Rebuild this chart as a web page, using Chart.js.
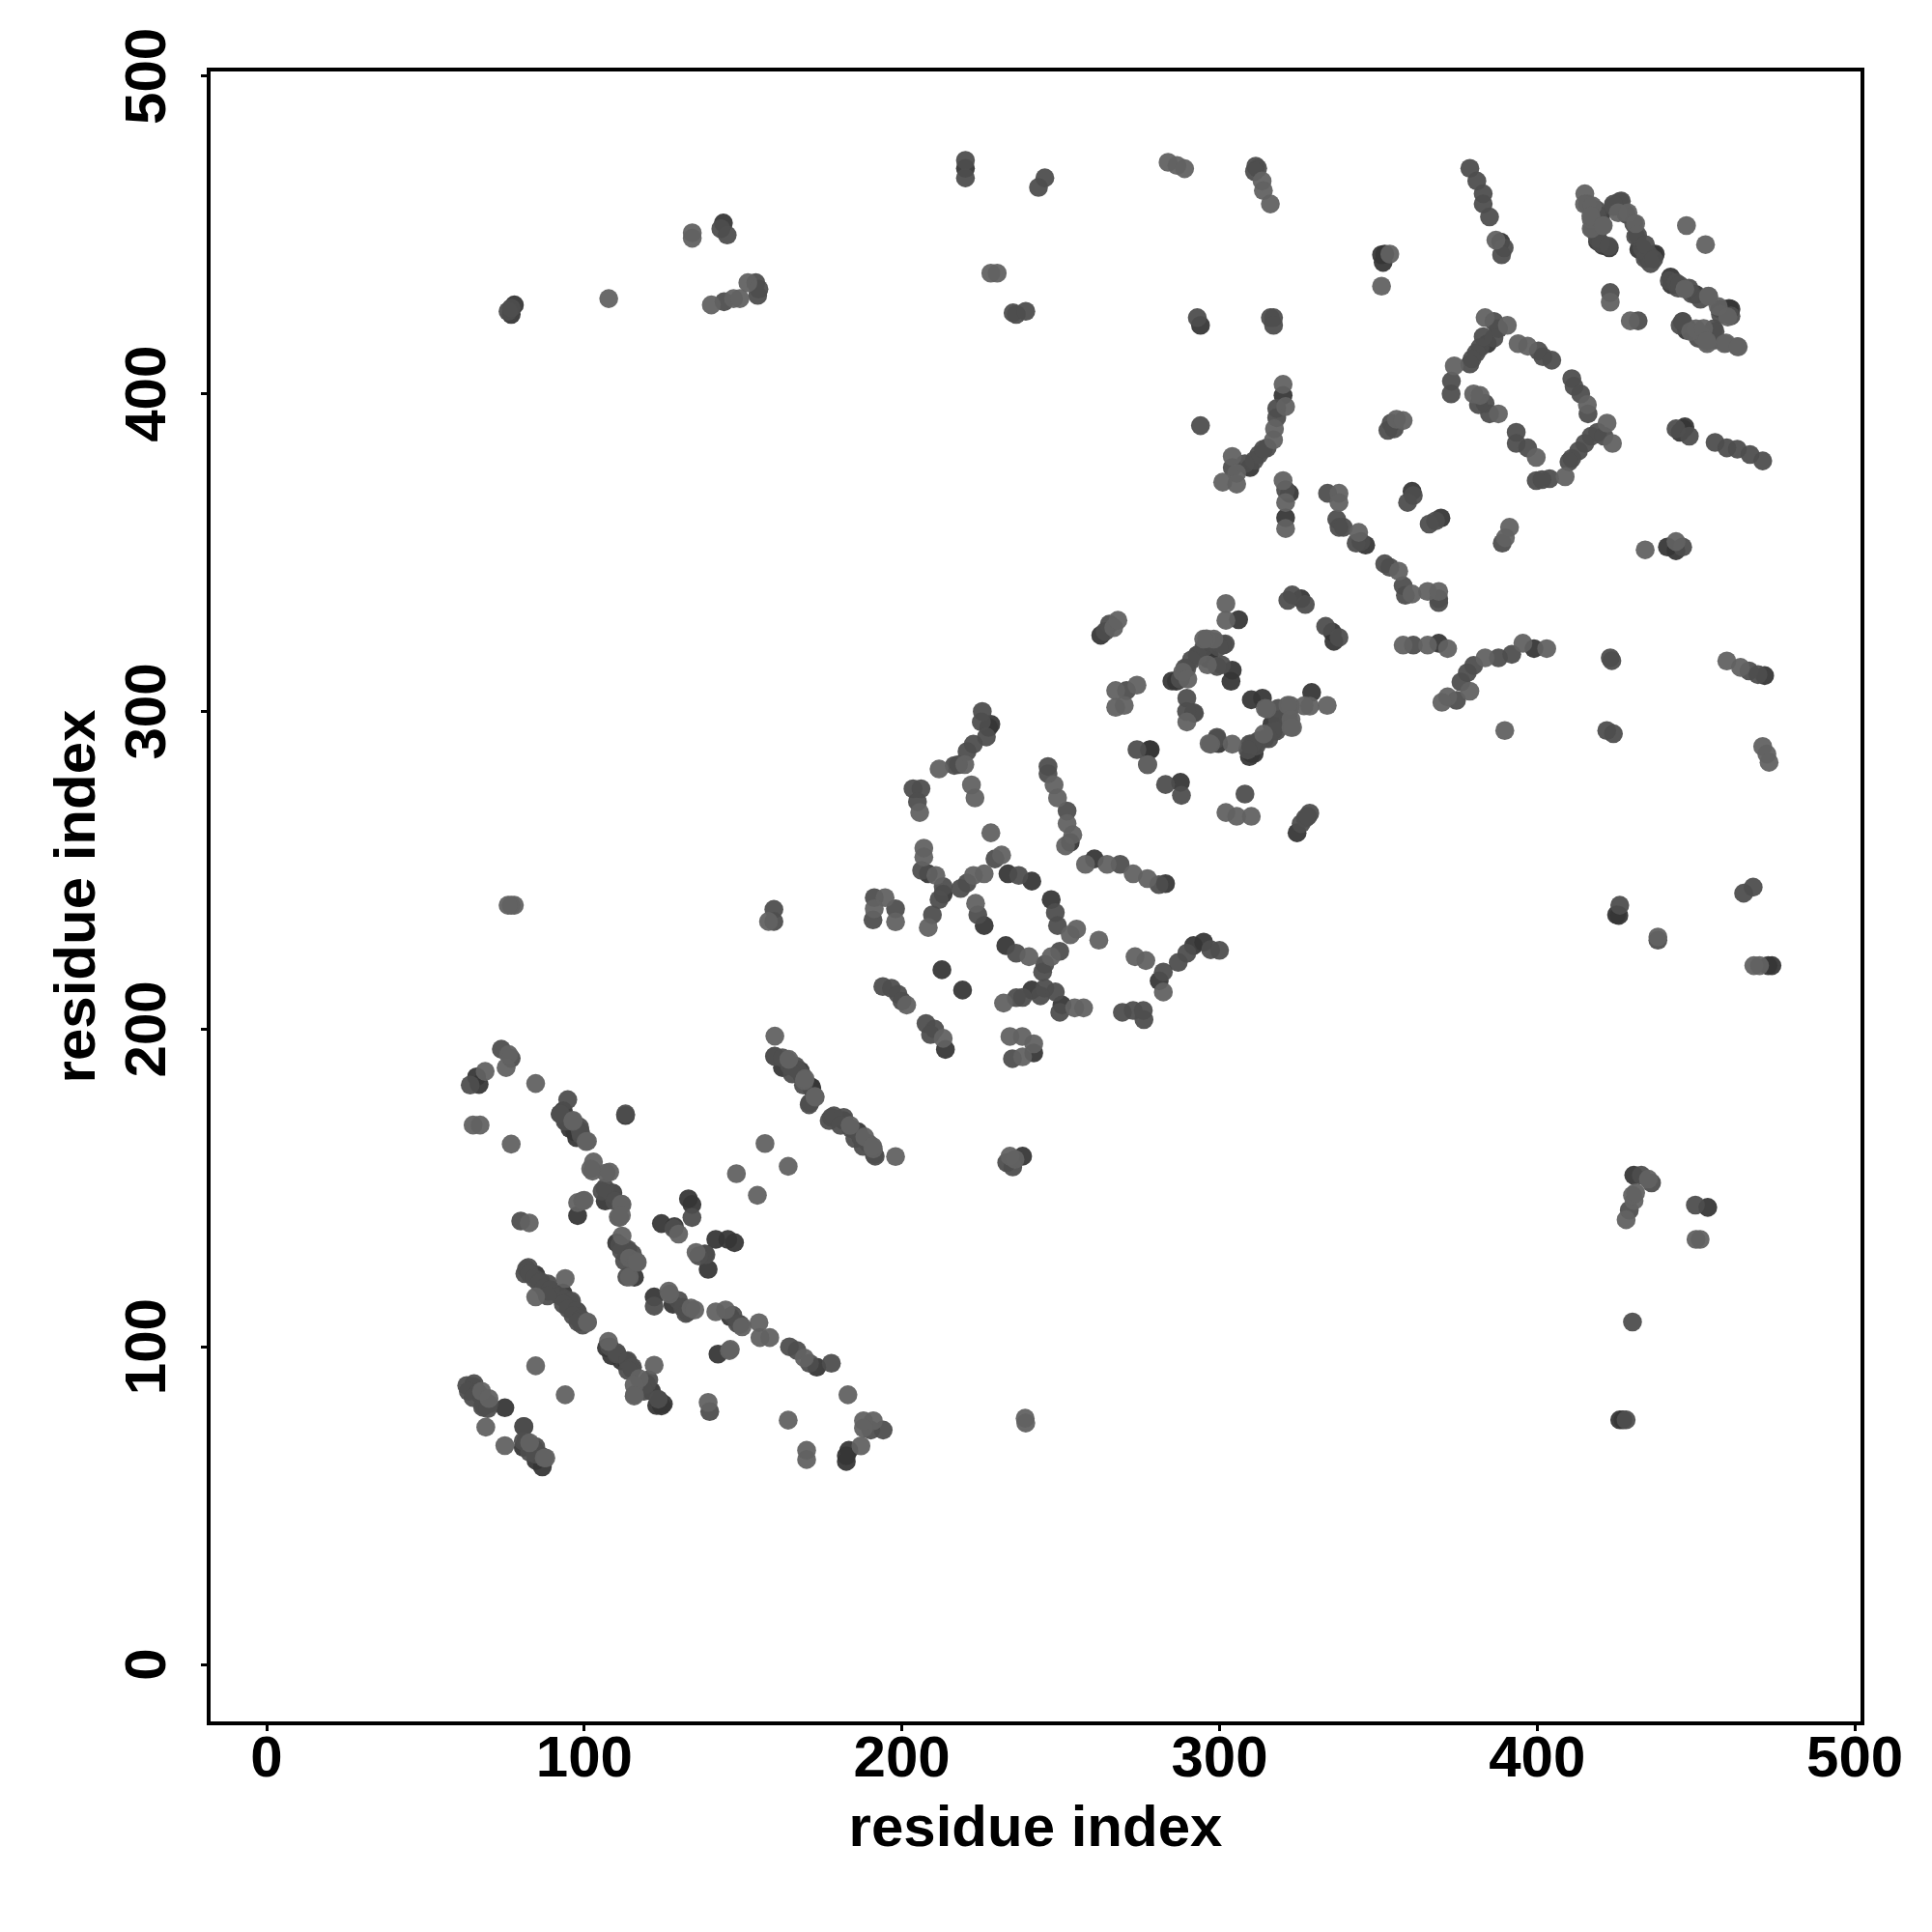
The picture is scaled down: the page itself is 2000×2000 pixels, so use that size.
<!DOCTYPE html>
<html>
<head>
<meta charset="utf-8">
<title>residue contacts</title>
<script src="https://cdn.jsdelivr.net/npm/chart.js@4.4.0/dist/chart.umd.min.js"></script>
<style>
  html, body { margin: 0; padding: 0; background: #fff; }
  canvas { display: block; }
</style>
</head>
<body>
<canvas id="contacts" width="2000" height="2000"></canvas>
<script>
const xTicks = [0, 100, 200, 300, 400, 500];
const yTicks = [0, 100, 200, 300, 400, 500];
const axisTitle = "residue index";

// contact points (residue i, residue j), grouped by grey level
const darkPoints = [
  [77,425],[78,428],[143.8,453.8],[220,471],[388.5,447.8],[352,444],[351,443.8],[351.5,441.4],
  [294,421.6],[436.7,443.8],[422.7,446],[442,436.8],[460.4,426.9],[447,420],[384.3,415.8],[420.6,446.7],
  [446.5,389.6],[445,387.9],[446,389],[320,399.5],[309.6,376.8],[322,368.7],[320.8,361],
  [346,352.4],[360.6,369.3],[369.7,360.9],[441,351.8],[443.7,350.6],[325.7,335.5],[335.5,325],[336,322.1],
  [369,321.5],[399,319.8],[471.6,311.3],[306,328.9],[296.5,316.5],[287.7,310.6],[286.4,309.5],[304,313],[303.6,309.5],
  [262.6,324],[310,303.7],[313.5,304.2],[329,306],[310,286.8],[278.2,288],[287.7,277.7],[324.4,261.8],
  [227.3,295],[228,296],[253,258.8],[260.6,253.6],[283,245.8],[208.3,248.9],[213,242.5],[233.4,248.9],[240.9,246.6],
  [225.9,232.6],[247,240.8],[232.7,226.3],[291.8,226.3],[295,227.4],[281,215.2],[212.6,218.7],[219.1,212.3],
  [213.7,193.6],[240.9,212.3],[250.4,207.6],[241.5,192.5],[66.1,185],[66.9,182.6],[97.6,165.8],[113,172.8],
  [97.9,141.3],[115.8,121.9],[124.3,138.8],[132.8,146.6],[133.9,144.8],[141.4,133.8],[145.2,133.8],[147.3,132.8],
  [139,124.4],[171.6,181.5],[84.7,122.7],[93.3,116.9],[122,115.7],[142.1,97.7],[173.2,93.6],[113.4,95.3],
  [121.2,86],[123.5,83.1],[124.3,81.4],[75,80.8],[86.8,62.2],[183.3,67.4],[182.5,63.9],[182.5,65.7],
  [238,160],[427,77],[426,77],[453.7,143.9],[430.4,154],[425.7,235.8],[425,236],[472.7,220],[473.9,220],
  [107,99.7],[108.6,97.2],[111.7,95.6],[124.9,82],[122.8,81.5],[86.3,65.7],[84.8,64.2],[80.8,68.3],[81,74.9],
  [127.9,113.4],[146,109.4],[93.4,174.3],[94.4,170.8],[97,167.7],[95.5,168.7],[109,148.4],[106.6,145.9],
  [128.4,137.8],[110.2,132.7],[138,129.2],[162.4,187.9],[168,186.9],[171.5,181.8],[181.7,171.2],[186.2,167.7],
  [420,456],[419,448],[432,445.5],[434.6,443],[437.2,444],[442.3,434.3],[449.9,431.3],[457.5,426.7],[461,426.7],[447.3,420.6],
  [285,309.6],[296.7,317.8],[319.5,297.5],[316.5,296],[310.9,286.8],[309.4,285.8],[299.7,289.9],[277.9,287.9]
];

const midPoints = [
  [76,426],[77,427],[143,452],[145,450],[144,429],[154,435],[154.6,431],[155,433],[220,473.5],[220,468],
  [243,465],[245,468],[235,425.5],[236,425],[239,426],[311.4,471.7],[312,471],[311,470],
  [378.8,471],[381,467],[383,463],[383,459.8],[385,455.7],[389.6,446],[388.8,443.8],[293,424],[316,424],[317,424],[317,421.6],
  [423,431.9],[431.8,423],[418.6,458],[419,456],[419,449],[426,460.6],[424,459],[428,456.6],[430.4,453.6],[431,449.6],
  [433,446],[435,444],[434,442.6],[435.7,441],[441.6,435.6],[443.7,435],[444.4,433.3],[448.6,431.5],[451.4,429.8],
  [457.7,425],[461,424.5],[445.8,422.8],[445,421.6],[455.6,420.5],[456,417],[450.7,417.5],
  [386.4,422.8],[387.8,420.5],[386.4,417.6],[382,414.6],[380.8,412.9],[379.5,411],[378.8,409.4],[383,418],[373,404],[372.9,400],
  [400.4,413.5],[401.8,411.7],[404.6,410.6],[410.9,404.8],[411.6,402.4],[413.7,400],[416,393.7],
  [419,387.9],[417,386.7],[415,384.4],[413,382],[410.9,379.7],[410,378.6],[421,386.7],[403.9,373.3],[399.7,372.7],[401.5,373],
  [397,383],[393.4,387.9],[393.4,384.4],[383.6,397],[385,393.7],[381.5,396.6],
  [443.7,389],[447.9,386.7],[456,384.7],[459.7,383],[463,382.6],[467,380.9],[471,378.9],[294,390],
  [354,390.8],[353,388.5],[355,389],[318,395.4],[318,392.5],[315,383],[312.4,380.9],[311,379.1],[304,376.8],[313.8,382.6],[308,378],
  [320.8,369.8],[334,368.7],[336.9,360.5],[339,358],[337.6,358],[344.5,353.5],[343,353],[359.2,365.8],[361,368],[366,359],[368,360],[389,353],
  [445.8,351.8],[352,346.5],[353.6,345.4],[357.8,339.6],[358.5,336.6],[369,334.3],[369,335.5],
  [322.9,336.7],[327,333.7],[321.5,335],[333.4,326.8],[337.6,323.3],[361,320.9],[392,318],[387.8,316.9],[380,314.5],[378,312.2],[376,309.3],
  [374.6,303.5],[423,316.9],[423.5,316],[466.7,312.8],[469.5,311.6],[421.9,294],[424,293],
  [298.6,322],[301.3,321],[293,317.6],[289.7,313.6],[295,320],[300.6,314.7],[265.3,327.5],[264,325.2],
  [270.7,306.6],[289.7,304.2],[291.8,299.6],[321.7,297.8],[318.3,297.3],[316.9,293.8],[314.2,291.4],[311.5,289.1],[309.4,289.7],[322,300.8],
  [299.2,291.4],[274,288],[277.3,283.3],[283,277],[288,273.6],[308,274],[328.4,268],[327,266.4],[325.7,264.7],[327.8,267],
  [225.3,300],[225,296.7],[226.6,292],[222.5,289.7],[220.5,287.4],[217.8,283.3],[216.5,283],
  [203.5,275.7],[206,275.7],[204.9,271.6],[246,282.7],[246,280.4],[252,268.7],[268.7,251.9],[280.9,245.5],
  [206.2,250],[213,244.9],[211.7,240.8],[209.6,236],[229.3,253.6],[236.8,248.4],[220.5,246],[218.5,244.3],[223.9,236],
  [191.3,241.4],[198,237.9],[190.9,234.4],[248.3,236.7],[249,232.6],[249.7,224.5],[245,220.4],[244.3,218],[236,223.9],
  [282.3,218],[287,221],[289.7,223.9],[297.2,225],[300,224.8],[194,213.4],[196.7,212.9],[198.8,211],[200,208.8],
  [207.6,201.8],[210.3,200],[209,198.3],[236,209.9],[245,212.9],[248.3,211.7],[249.7,205.3],[243.6,210.5],[238,210],
  [269.4,205.3],[272.8,205.9],[276.2,203],[276,205.9],[234.8,190.7],
  [73.9,193.7],[77,190.8],[64.1,182.4],[94.8,177.8],[92.5,173.3],[94,171],[98.7,168],[113,173.3],
  [106.5,150],[108.8,148.3],[80,139.6],[111.1,132],[113.4,130.3],[113.4,122],[128.2,137.2],[133.9,140.7],[138.3,129],
  [160,191.4],[163.9,190.2],[167,187.3],[170.8,176.2],[164.6,188.5],[168.5,185.6],[177.8,172.2],[181.7,172.2],[184,168.7],[187.1,165.8],[189.5,164],[191.3,160.5],
  [82.4,125],[88.6,119.8],[95.6,114],[97.9,111],[88.6,117.5],[98.7,108.1],[122,112.8],[129.7,114.6],[132,110.5],[146.8,109.9],[149.1,107],
  [164.6,100],[167,98.8],[177.8,94.8],[170.9,94.8],[108,100],[110.3,97.7],[115,93],[119.6,88.3],
  [63,87.8],[65.3,88.4],[68.4,81.4],[80.9,74.9],[81.6,70.3],[84.7,68.6],[84.7,66.2],[139.5,79.6],[194.1,73.8],[190.2,73.8],
  [234.9,156.6],[233,158],[159.7,237.7],[159.7,233.9],[430,107.8],[428,77],[449.8,144.6],[429,143],[432.8,154],[436,151.6],
  [438,228],[426,239],[465,242.8],[468,244.7],
  [81.8,124.5],[81.3,123],[82.8,123],[84.3,121.5],[86.3,120.5],[85.8,120],[87.3,118.5],[89.4,118],[92.4,116],[94,115],[96,114.4],[93.4,113.4],
  [95,111.9],[97.5,111.4],[96.5,109.8],[99,108.8],[99.5,106.8],[98,107.8],[88.4,116],
  [110.2,98.2],[113.7,95.6],[115.2,93.6],[113.7,92.6],[120.3,89.6],[118.8,86],[123.3,83.5],
  [65,87.5],[63.5,86],[66.6,85.5],[65,84],[68,84],[70,82],[68,81],[69.6,80.5],[80.8,70.3],[84.3,67.8],[82.8,66.8],
  [131,112.4],[132.5,110.9],[148.2,107.3],[112.7,127],[136,128.6],
  [92.4,173.3],[98.5,169.2],[99,166.7],[105.6,149],[109.6,145.9],[113.7,130.7],[111.7,130.2],[115.2,129.2],
  [159.9,191.5],[162.4,191],[166.5,188.4],[165.5,185.9],[169,182.4],[171,176.8],
  [177.1,171.2],[178.6,172.7],[180.7,169.7],[185.2,165.6],[191.6,160],[187.8,163.1],
  [417.4,452],[420,447.5],[422.5,446.5],[426.5,460.7],[424,459.7],[431.6,450],[434.1,447],[436.7,442.4],
  [444.8,434.3],[447.8,433.3],[445.8,422.7],[456,419.6],
  [301.8,321.3],[299.7,320.3],[293,317.8],[291.1,316.2],[289.1,313.7],[287.6,310.2],[299.2,314.2],[292.1,299.5],[289.6,300],
  [318.5,301],[318,293.9],[315.5,291.4],[312.4,290.9],[310.4,289.9],[308.9,287.9],[299.2,291.9]
];

const lightPoints = [
  [107.7,430],[134,450.7],[134,449],[140,428],[147,430],[149,430],[151.5,435],[228,438],[230,438],
  [283.8,472.9],[286.6,471.9],[289,470.9],[313.4,467],[313.8,464],[316,459.8],[387,448.4],[353.6,444],[351,433.9],
  [423,428.9],[429.3,423],[447,453],[453,447],[415,463],[415.8,459.8],[417,455],[420.6,453],[417,452],[425.5,457],
  [446.5,433],[454,430.7],[457,427.5],[450,420.5],[452,418],[453.5,415.8],[459,415.8],[463,414.9],
  [383.6,424],[390.6,421.6],[373.9,408.8],[394,415.8],[397,415],[415.8,396.6],[422,390.8],[423.7,384.4],[408.8,373.9],
  [399.7,380],[380,400],[382,399.5],[387.8,393.7],[355.7,392],[357.8,391.6],[320,403],[320.8,396],[317.3,389],[317,385.5],
  [304,380.3],[305.4,375],[301,372.2],[305.4,371.6],[320,372.7],[320.8,365.8],[320.8,357.6],[337.6,368.7],[337.6,365.8],[343.8,356.4],
  [391.3,358],[390,354.7],[434,350.9],[443.7,353.5],[356.4,344.2],[360.6,337],[365.5,337.8],[369,337.8],
  [357.8,320.9],[365.5,320.9],[371.8,319.8],[403,319.8],[395.5,321.5],[383.6,316.9],[378.8,306.4],[371.8,304.6],[370,302.9],
  [459.7,315.9],[464,313.9],[389.8,294],[471,289],[472.3,286.6],[473,284],
  [302,334],[302,328.7],[295.9,322.9],[288.4,312.4],[266.7,326.4],[268,328.7],[267.3,306.6],[274,308.3],[267.3,301.3],[270,301.9],
  [289.7,296.7],[314.9,300.8],[328.4,301.7],[333.9,301.9],[322.3,301.9],[323,295],[297.2,289.7],[304,289.7],
  [302,268.2],[305.4,267],[310,267],[219.8,283.3],[211.7,281.9],[205.6,268.2],[221.9,276.9],[223,272.8],[228,261.8],
  [247.9,276.9],[249,272.8],[252,264.7],[253.8,261.2],[251.5,257.7],[257.8,251.9],[264.6,251.9],[272.8,248.9],[277.3,247.4],
  [206.9,257],[206.9,254.2],[210.7,248.4],[208.3,232],[231.4,254.8],[225.9,248.9],[222.5,248.4],[223.2,239.6],
  [194.7,241.4],[191.3,237.9],[198,233.8],[255,231.5],[253,229.7],[262,228],[247,222.8],[240,222.8],
  [273.4,222.8],[276.8,221.6],[282.3,211.7],[201.5,207.6],[213,197.1],[232,208.2],[257.2,206.7],[254.4,206.7],
  [234,197.7],[237.9,197.7],[241.5,195.4],[238,191.3],
  [76.2,192],[75.4,187.9],[68.8,186.7],[84.7,182.9],[96.4,171],[100.6,164.6],[65,169.8],[67.2,169.8],[77,163.8],
  [102.9,158.2],[102.6,155.3],[106.9,154.7],[111.9,144.8],[111.1,140.7],[99.5,146],[97.9,145.4],[82.7,139],
  [111.9,134.9],[114.2,127.9],[116.5,126.8],[129.7,135.5],[135.2,129.7],[154.5,147.7],[147.9,154.5],[156.9,164],[164.2,156.8],
  [160,197.8],[169.3,183.8],[172.7,178.6],[198,159.9],[191,162.3],
  [94,121.5],[101,107.6],[84.7,115.7],[126.6,117.5],[133.6,112.2],[141.4,111],[144.5,111.6],[155,107.6],[155.3,102.9],[158.4,102.9],
  [145.7,98.8],[169.3,96.5],[122,94.2],[117.3,90],[115.8,84.9],[84.7,94],[94,84.9],
  [67.7,86],[70,83.7],[69,74.7],[75,68.9],[87.4,65],[139,82.5],[164.2,76.9],[170,67.4],[170,64.5],
  [183,84.9],[187.9,76.7],[191,76.7],[187.9,74.4],[187.1,68.8],
  [238.8,77.5],[239,76],[234,160],[235.6,159],[158,233.9],[77,239],[78,239],[76,239],
  [450,133.8],[451.3,133.8],[428,140],[430.5,146],[430,147.7],[435,152.8],[431,148.5],[438,229],[468.2,220],[470,220],
  [101,107.8],[107.6,101.7],[115.7,88],[115.7,84.5],[82.8,69.8],[87.9,65],[126.9,116.6],[134.8,111.6],[149.7,106.3],[146,99.2],
  [114.2,122],[116.7,126.6],[96.5,171.3],[101,164.7],[102,156],[108,155],[111.7,144.9],[110.7,140.9],[111.7,141.4],[100,146.1],
  [164.4,190.5],[169.5,184.4],[172.6,178.8],[183.7,169.7],[188.3,166.1],[190.8,163.1],
  [414.9,459.7],[417.4,459.2],[416.9,456],[420.8,453],[428.6,457],[431,453.6],[453.9,430.8],[460,424.2],[448.3,419.6],[452.4,420.6],
  [453.4,416.6],[459.5,416],[463.3,414.8],[298.2,322.8],[295,322.8],[290,310.2],[296.2,314.7],[326.6,301.8],[321.5,302],
  [314.4,301],[322.5,297.5],[322.5,295],[313.9,292.9],[296.7,289.9],[277.4,283.3]
];

const toXY = pts => pts.map(p => ({ x: p[0], y: p[1] }));

// box around the plot area, like R's box()
const plotBox = {
  id: "plotBox",
  afterDraw(chart) {
    const { ctx, chartArea: a } = chart;
    ctx.save();
    ctx.strokeStyle = "#000";
    ctx.lineWidth = 4;
    ctx.strokeRect(a.left, a.top, a.right - a.left, a.bottom - a.top);
    ctx.restore();
  },
};

const tickFont = { family: "'Liberation Sans', Arial, sans-serif", size: 60, weight: "bold", lineHeight: 1 };
const gridOpts = { drawOnChartArea: false, drawTicks: true, tickLength: 8, tickWidth: 3, tickColor: "#000" };

new Chart(document.getElementById("contacts"), {
  type: "scatter",
  data: {
    // Chart.js paints the first dataset last, so the light points end up on top
    datasets: [
      { label: "light", data: toXY(lightPoints), backgroundColor: "rgba(98,98,98,0.95)" },
      { label: "mid", data: toXY(midPoints), backgroundColor: "rgba(78,78,78,0.95)" },
      { label: "dark", data: toXY(darkPoints), backgroundColor: "rgba(55,55,55,0.95)" },
    ],
  },
  options: {
    responsive: false,
    animation: false,
    layout: { padding: { top: 72, right: 72, left: 0, bottom: 0 } },
    elements: { point: { radius: 9.8, borderWidth: 0, hoverRadius: 9.8 } },
    plugins: { legend: { display: false }, title: { display: false }, tooltip: { enabled: false } },
    scales: {
      x: {
        type: "linear",
        min: -18.25,
        max: 502.4,
        grid: gridOpts,
        border: { display: false },
        afterBuildTicks: s => { s.ticks = xTicks.map(v => ({ value: v })); },
        afterFit: s => { s.height = 216; },
        ticks: { font: tickFont, color: "#000", padding: 0, maxRotation: 0, autoSkip: false },
        title: { display: true, text: axisTitle, color: "#000", font: tickFont, padding: { bottom: 76, top: 0 } },
      },
      y: {
        type: "linear",
        min: -18.55,
        max: 502.1,
        grid: gridOpts,
        border: { display: false },
        afterBuildTicks: s => { s.ticks = yTicks.map(v => ({ value: v })); },
        afterFit: s => { s.width = 216; },
        ticks: { font: tickFont, color: "#000", padding: 3, minRotation: 90, maxRotation: 90, crossAlign: "center", autoSkip: false },
        title: { display: true, text: axisTitle, color: "#000", font: tickFont, padding: { top: 51, bottom: 0 } },
      },
    },
  },
  plugins: [plotBox],
});
</script>
</body>
</html>
